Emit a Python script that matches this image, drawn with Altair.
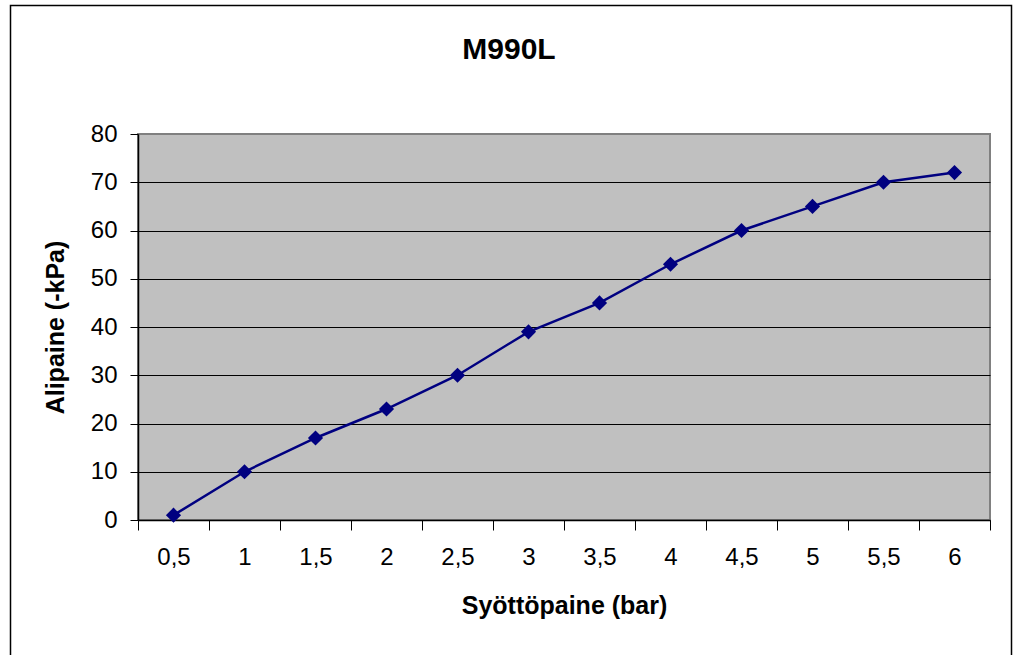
import altair as alt
import pandas as pd

x_labels = ["0,5", "1", "1,5", "2", "2,5", "3", "3,5", "4", "4,5", "5", "5,5", "6"]
y_values = [1, 10, 17, 23, 30, 39, 45, 53, 60, 65, 70, 72]
y_ticks = [0, 10, 20, 30, 40, 50, 60, 70, 80]

df = pd.DataFrame({"syotto": x_labels, "ali": y_values})

FONT = "Liberation Sans"

x_enc = alt.X(
    "syotto:N",
    sort=x_labels,
    scale=alt.Scale(paddingInner=0, paddingOuter=0),
    axis=alt.Axis(
        title="Syöttöpaine (bar)",
        labelAngle=0,
        tickBand="extent",
        tickSize=10,
        tickColor="black",
        tickWidth=1,
        domainColor="black",
        domainWidth=1.5,
        labelFont=FONT,
        labelFontSize=24,
        labelColor="black",
        labelPadding=15,
        titleFont=FONT,
        titleFontSize=25,
        titleFontWeight="bold",
        titleColor="black",
        titleBaseline="alphabetic",
        titleY=93,
        grid=False,
    ),
)

y_enc = alt.Y(
    "ali:Q",
    scale=alt.Scale(domain=[0, 80], nice=False),
    axis=alt.Axis(
        title="Alipaine (-kPa)",
        values=y_ticks,
        tickSize=8,
        tickColor="black",
        tickWidth=1,
        domainColor="black",
        domainWidth=1.5,
        labelFont=FONT,
        labelFontSize=24,
        labelColor="black",
        labelPadding=13,
        titleFont=FONT,
        titleFontSize=25,
        titleFontWeight="bold",
        titleColor="black",
        titleBaseline="alphabetic",
        titleX=-75,
        grid=True,
        gridColor={"condition": {"test": "datum.value === 80", "value": "#808080"}, "value": "black"},
        gridWidth=1,
    ),
)

base = alt.Chart(df).encode(x=x_enc, y=y_enc)

line = base.mark_line(color="#000080", strokeWidth=2.5)
points = base.mark_point(shape="diamond", filled=True, size=230, color="#000080", opacity=1)

frame = alt.Chart(pd.DataFrame({"a": [0]})).mark_rect(
    fill="transparent", stroke="black", strokeWidth=1.5
).encode(
    x=alt.value(-127.5), x2=alt.value(873.5), y=alt.value(-128.5), y2=alt.value(530)
)

chart = alt.layer(frame, line, points).properties(
    width=852,
    height=386,
    autosize=alt.AutoSizeParams(type="none"),
    padding={"left": 138, "top": 134, "right": 23, "bottom": 135},
    title=alt.TitleParams(
        "M990L",
        font=FONT,
        fontSize=30,
        fontWeight="bold",
        color="black",
        anchor="middle",
        baseline="alphabetic",
        dx=-55,
        offset=0,
        dy=84,
    ),
).configure(background="white").configure_view(
    fill="#C0C0C0", stroke="#808080", strokeWidth=2
)

chart.save("out.html", embed_options={"renderer": "svg", "actions": False})
